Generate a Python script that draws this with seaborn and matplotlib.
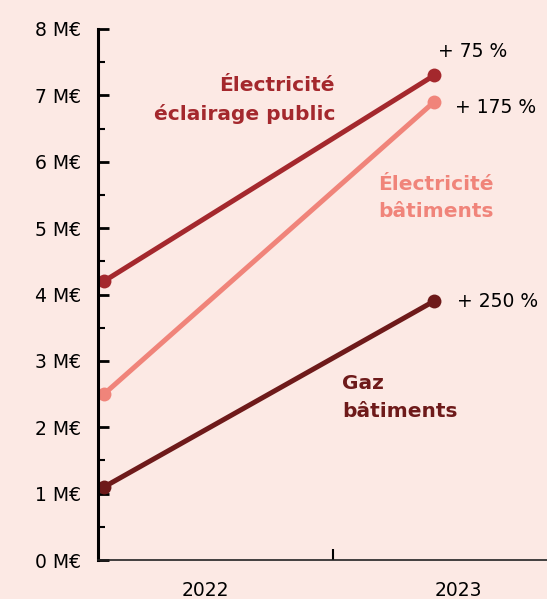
import pandas as pd
import seaborn as sns
import matplotlib.pyplot as plt
from matplotlib.ticker import MultipleLocator, FixedLocator

# données (millions d'euros)
annees = ["2022", "2023"]
series = ["Électricité\néclairage public", "Électricité\nbâtiments", "Gaz\nbâtiments"]
eclairage = [4.2, 7.3]
elec_bat = [2.5, 6.9]
gaz_bat = [1.1, 3.9]
hausses = ["+ 75 %", "+ 175 %", "+ 250 %"]
couleurs = ["#a4282d", "#f0847a", "#6e1a1a"]

fond = "#fce9e4"

sns.set_theme(style="white")
plt.rcParams['font.family'] = ['DejaVu Sans']

rows = []
for nom, vals in zip(series, [eclairage, elec_bat, gaz_bat]):
    for i, v in enumerate(vals):
        rows.append({"x": i, "valeur": v, "serie": nom})
df = pd.DataFrame(rows)

fig = plt.figure(figsize=(5.47, 5.99), dpi=100, facecolor=fond)
ax = fig.add_axes([98 / 547, 39 / 599, 1 - 98 / 547, (560 - 29) / 599])
ax.set_facecolor(fond)

sns.lineplot(data=df, x="x", y="valeur", hue="serie", palette=couleurs,
             hue_order=series, marker="o", markersize=10, markeredgewidth=0,
             linewidth=3.6, legend=False, ax=ax, clip_on=False)

ax.set_xlim(-6 / 330, 443 / 330)
ax.set_ylim(0, 8)

# axe y
ax.yaxis.set_major_locator(MultipleLocator(1))
ax.yaxis.set_minor_locator(MultipleLocator(0.5))
ax.set_yticklabels([f"{int(v)} M€" for v in ax.get_yticks()])
ax.tick_params(axis="y", which="major", direction="in", length=8, width=2,
               color="black", labelcolor="black", labelsize=13.5, pad=12,
               left=True)
ax.tick_params(axis="y", which="minor", direction="in", length=5, width=1.5,
               color="black", left=True)

# axe x : un trait séparateur, libellés au centre des bandes
ax.xaxis.set_major_locator(FixedLocator([229 / 330]))
ax.xaxis.set_minor_locator(FixedLocator([101 / 330, 354 / 330]))
ax.set_xticklabels([""])
ax.set_xticklabels(annees, minor=True)
ax.tick_params(axis="x", which="major", direction="in", length=8, width=1.5,
               color="black", bottom=True)
ax.tick_params(axis="x", which="minor", length=0, labelsize=13.5, pad=15,
               labelcolor="black")
ax.set_xlabel("")
ax.set_ylabel("")

for s in ["top", "right"]:
    ax.spines[s].set_visible(False)
ax.spines["left"].set_linewidth(2.2)
ax.spines["left"].set_color("black")
ax.spines["bottom"].set_linewidth(1.2)
ax.spines["bottom"].set_color("#222222")

# hausses
decalages = [(3, 17), (15, -4), (16.5, 0)]
for vals, txt, d in zip([eclairage, elec_bat, gaz_bat], hausses, decalages):
    ax.annotate(txt, (1, vals[1]), xytext=d, textcoords="offset points",
                ha="left", va="center", fontsize=13.5, color="black")

# noms des séries
ax.text(0.70, 6.93, series[0], ha="right", va="center", ma="right",
        fontsize=14.5, fontweight="bold", color=couleurs[0], linespacing=1.55)
ax.text(0.83, 5.45, series[1], ha="left", va="center", ma="left",
        fontsize=14.5, fontweight="bold", color=couleurs[1], linespacing=1.55)
ax.text(0.721, 2.45, series[2], ha="left", va="center", ma="left",
        fontsize=14.5, fontweight="bold", color=couleurs[2], linespacing=1.55)

fig.savefig("out.png", dpi=100, facecolor=fond)
